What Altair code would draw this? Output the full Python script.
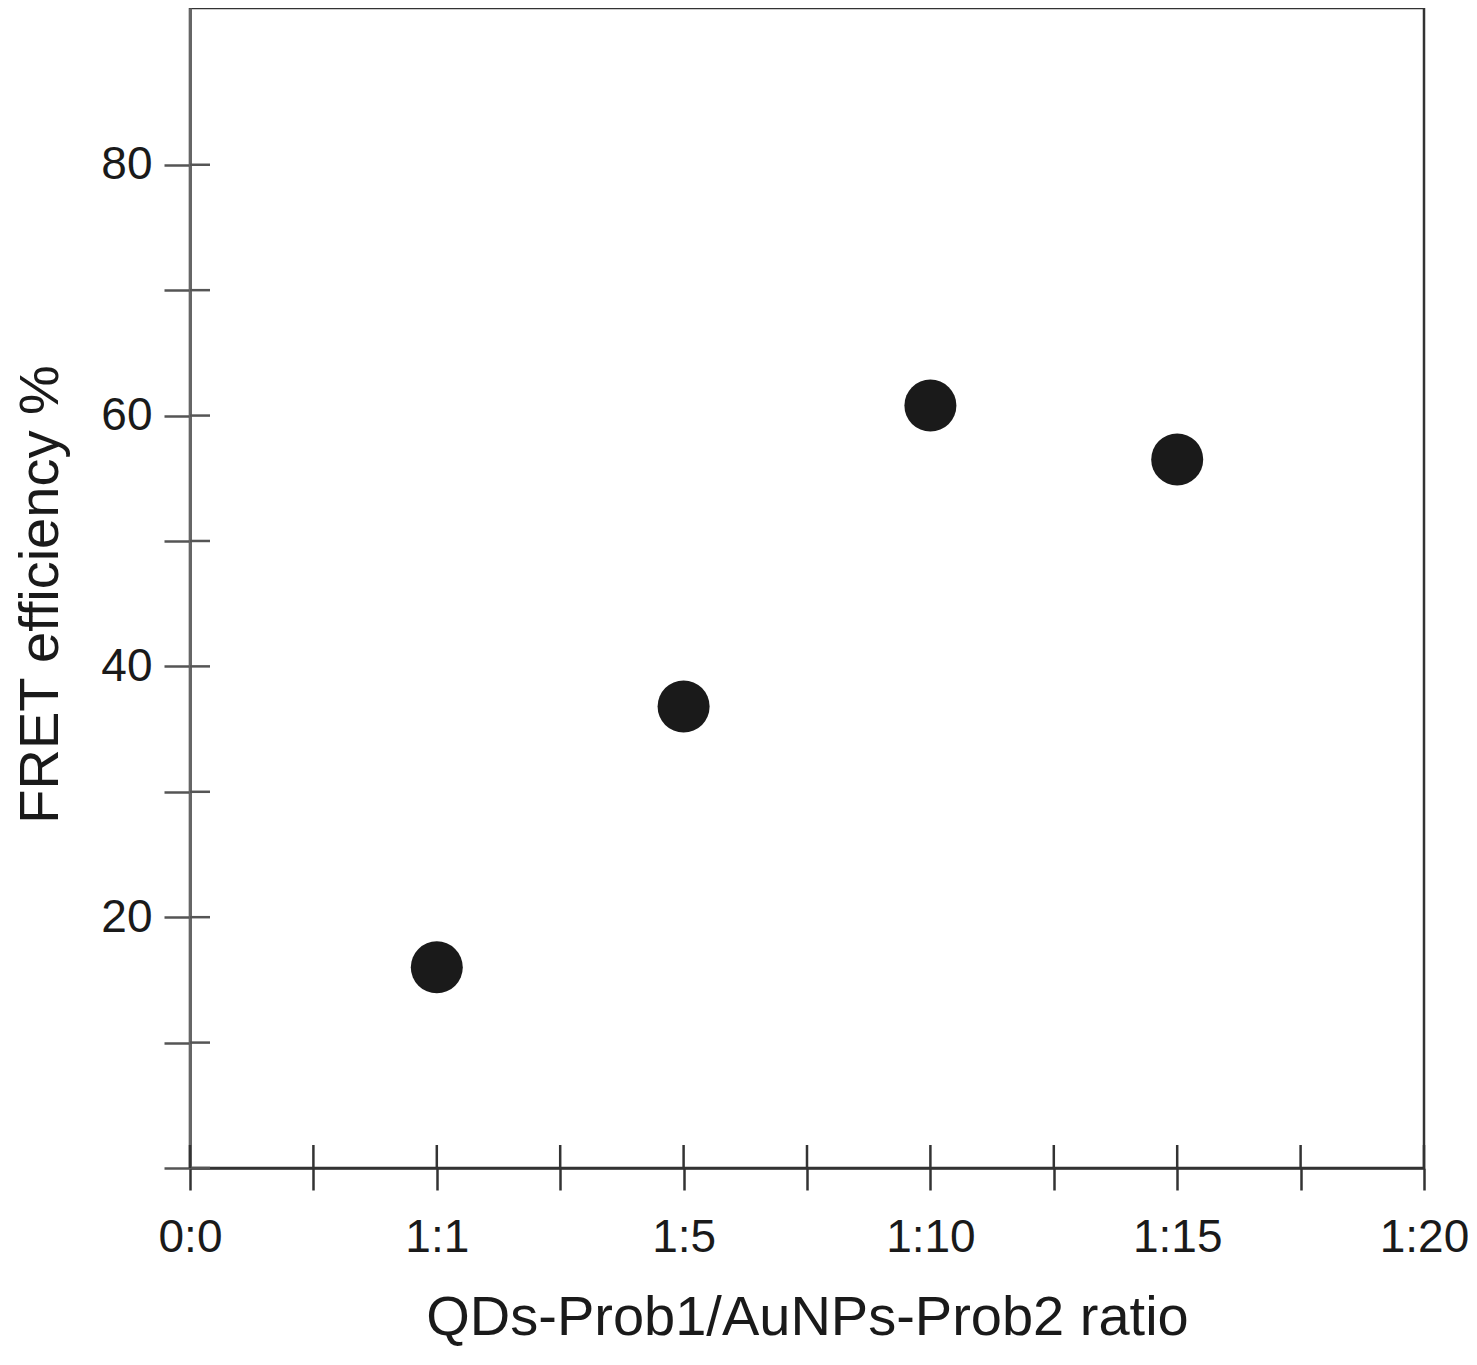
import altair as alt
import pandas as pd

# ---- data ----
ratio_pos = [2, 4, 6, 8]                 # positions on the ratio axis
ratio_labels = ["1:1", "1:5", "1:10", "1:15"]
fret = [16.0, 36.8, 60.8, 56.5]          # FRET efficiency %

x_tick_values = [0, 1, 2, 3, 4, 5, 6, 7, 8, 9, 10]
x_tick_labels = ["0:0", "", "1:1", "", "1:5", "", "1:10", "", "1:15", "", "1:20"]
y_tick_values = [0, 10, 20, 30, 40, 50, 60, 70, 80]
y_label_values = [20, 40, 60, 80]

W, H = 1234, 1160
FONT = "Liberation Sans"

df = pd.DataFrame({"pos": ratio_pos, "ratio": ratio_labels, "fret": fret})
xt = pd.DataFrame({"v": x_tick_values})
yt = pd.DataFrame({"v": y_tick_values})

x_label_expr = "[" + ",".join(f"'{l}'" for l in x_tick_labels) + "][datum.value]"
y_label_expr = (
    "indexof([" + ",".join(str(v) for v in y_label_values) + "], datum.value) >= 0 ? datum.label : ''"
)

xscale = alt.Scale(domain=[0, 10], nice=False, zero=False)
yscale = alt.Scale(domain=[0, 92.5], nice=False, zero=False)

x_axis = alt.Axis(
    values=x_tick_values,
    labelExpr=x_label_expr,
    labelFlush=False,
    labelOverlap=False,
    grid=False,
    tickSize=22,
    tickWidth=2.5,
    tickColor="#333333",
    domainColor="#333333",
    domainWidth=2.5,
    labelFont=FONT,
    labelFontSize=46,
    labelColor="#1a1a1a",
    labelPadding=25,
    title="QDs-Prob1/AuNPs-Prob2 ratio",
    titleFont=FONT,
    titleFontSize=56,
    titleFontWeight="normal",
    titleColor="#1a1a1a",
    titleY=166,
    titleBaseline="alphabetic",
)
y_axis = alt.Axis(
    values=y_tick_values,
    labelExpr=y_label_expr,
    labelOverlap=False,
    grid=False,
    tickSize=26,
    tickWidth=2.5,
    tickColor="#555555",
    domainColor="#666666",
    domainWidth=3,
    labelFont=FONT,
    labelFontSize=46,
    labelColor="#1a1a1a",
    labelPadding=12,
    title="FRET efficiency %",
    titleFont=FONT,
    titleFontSize=56,
    titleFontWeight="normal",
    titleColor="#1a1a1a",
    titleX=-150,
    titleY=586,
    titleAngle=270,
    titleAlign="center",
    titleBaseline="middle",
)

points = alt.Chart(df).mark_circle(size=2704, color="#1a1a1a", opacity=1).encode(
    x=alt.X("pos:Q", scale=xscale, axis=x_axis),
    y=alt.Y("fret:Q", scale=yscale, axis=y_axis),
)

# inner halves of the crossing tick marks
y_inner = alt.Chart(yt).mark_rule(color="#555555", strokeWidth=2.5).encode(
    y=alt.Y("v:Q", scale=yscale, axis=y_axis),
    x=alt.value(0),
    x2=alt.value(20),
)
x_inner = alt.Chart(xt).mark_rule(color="#333333", strokeWidth=2.5).encode(
    x=alt.X("v:Q", scale=xscale, axis=x_axis),
    y=alt.value(H),
    y2=alt.value(H - 23),
)

chart = (
    alt.layer(points, y_inner, x_inner)
    .properties(
        width=W,
        height=H,
        autosize=alt.AutoSizeParams(type="none"),
        padding={"left": 182, "top": 0, "right": 44, "bottom": 179},
        background="white",
    )
    .configure_view(stroke="#333333", strokeWidth=2.5)
)

chart.save("out.html", embed_options={"renderer": "svg", "actions": False})
